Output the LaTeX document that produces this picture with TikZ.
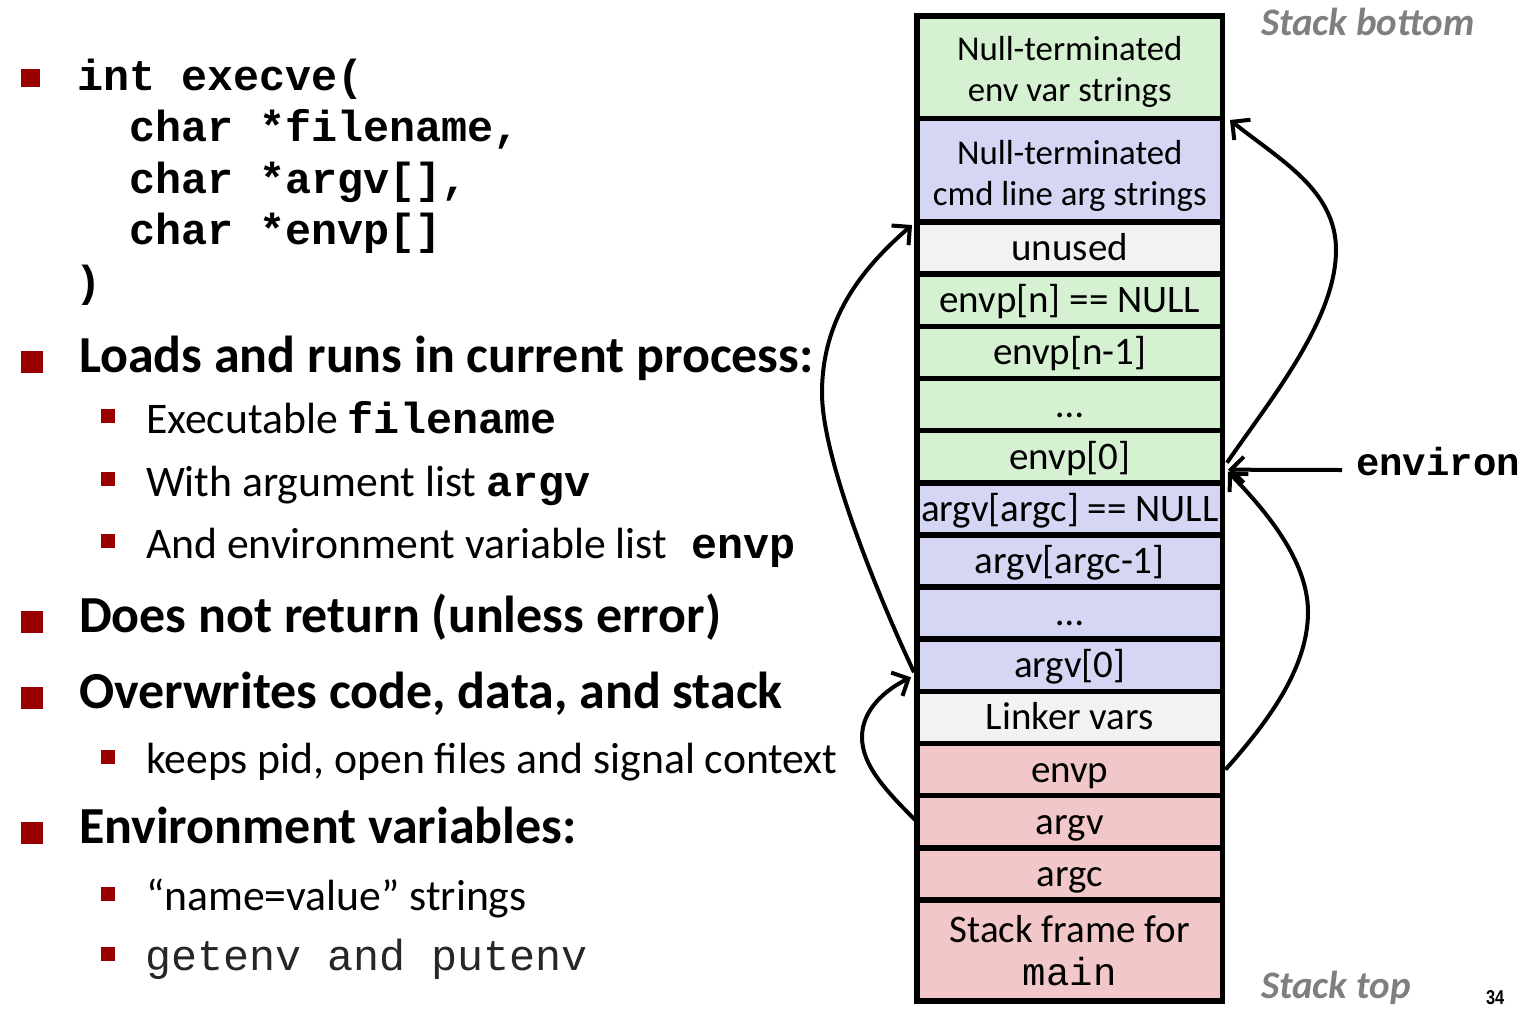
\documentclass[tikz,border=0pt]{standalone}
\usepackage{fontspec}
\usepackage{graphicx}
\setmainfont{Carlito}
\newfontfamily\mono{Liberation Mono}
\newfontfamily\arialf{Liberation Sans}
\usetikzlibrary{arrows.meta,calc}
\definecolor{bulletred}{HTML}{990000}
\definecolor{cgreen}{HTML}{D6F1D1}
\definecolor{cblue}{HTML}{D5D5F4}
\definecolor{cpink}{HTML}{F2C7C9}
\definecolor{cgray}{HTML}{F2F2F2}
\definecolor{labelgray}{HTML}{7F7F7F}
\newcommand\fsz[2]{\fontsize{#1}{#2}\selectfont}
\newcommand\cb[1]{{\mono\bfseries\fsz{43.4}{50}#1}}
\begin{document}
\begin{tikzpicture}[x=1pt,y=-1pt,
 txt/.style={anchor=base west, inner sep=0pt, outer sep=0pt},
 head/.style={txt, font=\fsz{52}{60}\bfseries},
 sub/.style={txt, font=\fsz{43.7}{50}},
 code/.style={txt, font=\fsz{43.4}{50}\mono\bfseries},
 cell/.style={draw=black, line width=5.5pt, minimum width=305.5pt, inner sep=0pt, outer sep=0pt, align=center, font=\fsz{39}{43}},
 one/.style={cell, text height=31pt, text depth=6pt, minimum height=52.15pt},
 two/.style={cell, font=\fsz{34.8}{41}},
 arr/.style={line width=4pt, -{Straight Barb[length=13pt,width=26pt]}},
]
\useasboundingbox (0,0) rectangle (1521,1013);
\fill[white] (0,0) rectangle (1521,1013);

% ---- left column: bullets ----
\fill[bulletred] (21,69) rectangle (40,87);
\fill[bulletred] (21,351) rectangle (43,373);
\fill[bulletred] (101,409) rectangle (115,423);
\fill[bulletred] (101,472) rectangle (115,486);
\fill[bulletred] (101,534) rectangle (115,548);
\fill[bulletred] (21,611) rectangle (43,633);
\fill[bulletred] (21,687) rectangle (43,709);
\fill[bulletred] (101,750) rectangle (115,764);
\fill[bulletred] (21,822) rectangle (43,844);
\fill[bulletred] (101,887) rectangle (115,901);
\fill[bulletred] (101,947) rectangle (115,961);

% ---- code ----
\node[code] (c1) at (77,90) {int execve(};
\node[code] (c2) at (129.1,141.5) {char *filename,};
\node[code] (c3) at (129.1,193) {char *argv[],};
\node[code] (c4) at (129.1,244.5) {char *envp[]};
\node[code] (c5) at (75,296) {)};

% ---- bullet texts ----
\node[head] (h1) at (79,372) {Loads and runs in current process:};
\node[sub] (s1) at (146,433) {Executable \cb{filename}};
\node[sub] (s2) at (146,496) {With argument list \cb{argv}};
\node[sub] (s3) at (146,558) {And environment variable list\hspace{14pt} \cb{envp}};
\node[head] (h2) at (79,632) {Does not return (unless error)};
\node[head] (h3) at (79,708) {Overwrites code, data, and stack};
\node[sub] (s4) at (146,773) {keeps pid, open files and signal context};
\node[head] (h4) at (79,843) {Environment variables:};
\node[sub] (s5) at (146,910) {“name=value” strings};
\node[txt, font=\fsz{43.4}{50}\mono, text=black!85] (s6) at (145,970) {getenv and putenv};

% ---- stack ----
\node[two, fill=cgreen, minimum height=102.5pt] (envstr) at (1069.75,67.25) {\rule{0pt}{34pt}Null-terminated\\env var strings};
\node[two, fill=cblue, minimum height=103.5pt] (argstr) at (1069.75,170.25) {\rule{0pt}{35pt}Null-terminated\\cmd line arg strings};
\node[one, fill=cgray] (unused) at (1069.75,248.075) {unused};
\node[one, fill=cgreen] (envpn) at (1069.75,300.225) {envp[n] == NULL};
\node[one, fill=cgreen] (envpn1) at (1069.75,352.375) {envp[n-1]};
\node[one, fill=cgreen] (envpdots) at (1069.75,404.525) {…};
\node[one, fill=cgreen] (envp0) at (1069.75,456.675) {envp[0]};
\node[one, fill=cblue] (argvargc) at (1069.75,508.825) {argv[argc] == NULL};
\node[one, fill=cblue] (argvargc1) at (1069.75,560.975) {argv[argc-1]};
\node[one, fill=cblue] (argvdots) at (1069.75,613.125) {…};
\node[one, fill=cblue] (argv0) at (1069.75,665.275) {argv[0]};
\node[one, fill=cgray] (linker) at (1069.75,717.425) {Linker vars};
\node[one, fill=cpink] (envp) at (1069.75,769.575) {envp};
\node[one, fill=cpink] (argv) at (1069.75,821.725) {argv};
\node[one, fill=cpink] (argc) at (1069.75,873.875) {argc};
\node[cell, fill=cpink, minimum height=101.05pt] (frame) at (1069.75,950.475) {Stack frame for\\{\mono main}};

% ---- labels ----
\node[txt, font=\fsz{39}{44}\bfseries\itshape, text=labelgray] (sbot) at (1261,35) {Stack bottom};
\node[txt, font=\fsz{39}{44}\bfseries\itshape, text=labelgray] (stop) at (1261,998) {Stack top};
\node[txt, font=\fsz{39}{44}\mono\bfseries] (environ) at (1356,475) {environ};
\node[txt, font=\fsz{20}{24}\arialf\bfseries] (pnum) at (1486,1004) {\scalebox{0.82}[1]{34}};

% ---- arrows ----
\draw[arr] ($(argv0.west)+(-3,7)$) .. controls (880,600) and (822,460) .. (822,393)
  .. controls (822,320) and (860,270) .. ($(argstr.south west)+(-5,3)$);
\draw[arr] (argv.west) .. controls (885,790) and (862,765) .. (862,737)
  .. controls (862,710) and (885,690) .. ($(argv0.west)+(-6,12)$);
\draw[arr] ($(envp.east)+(3,0)$) .. controls (1265,725) and (1308,670) .. (1308,612)
  .. controls (1308,560) and (1265,510) .. ($(envp0.east)+(5.5,15)$);
\draw[arr] ($(envp0.east)+(4.5,6)$) .. controls (1270,400) and (1336,320) .. (1336,250)
  .. controls (1336,190) and (1280,160) .. ($(envstr.south east)+(7.5,1.5)$);
\coordinate (envfrom) at (1342,470);
\draw[arr] (envfrom) -- ($(envp0.east)+(5.5,13)$);
\end{tikzpicture}
\end{document}
